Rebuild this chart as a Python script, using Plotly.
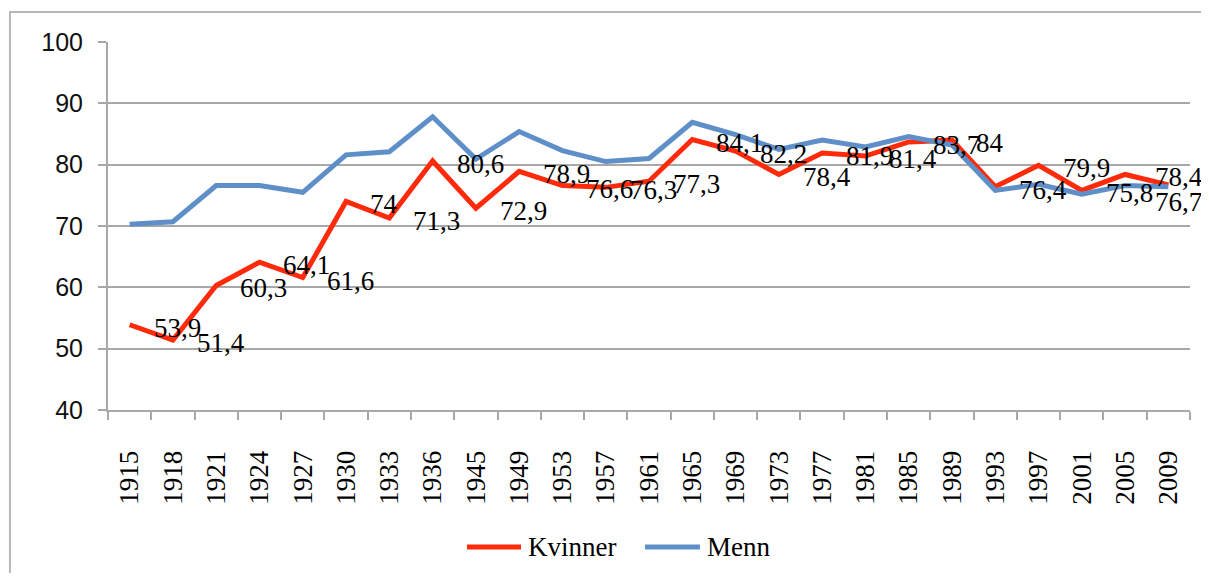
import plotly.graph_objects as go

years = ['1915', '1918', '1921', '1924', '1927', '1930', '1933', '1936', '1945',
         '1949', '1953', '1957', '1961', '1965', '1969', '1973', '1977', '1981',
         '1985', '1989', '1993', '1997', '2001', '2005', '2009']
kvinner = [53.9, 51.4, 60.3, 64.1, 61.6, 74, 71.3, 80.6, 72.9, 78.9, 76.6, 76.3,
           77.3, 84.1, 82.2, 78.4, 81.9, 81.4, 83.7, 84, 76.4, 79.9, 75.8, 78.4, 76.7]
menn = [70.3, 70.7, 76.6, 76.6, 75.5, 81.6, 82.1, 87.8, 80.9, 85.4, 82.3, 80.5,
        81.0, 86.9, 84.9, 82.5, 84.0, 82.9, 84.6, 83.2, 75.8, 76.8, 75.2, 76.6, 76.4]
y_ticks = [40, 50, 60, 70, 80, 90, 100]

RED = '#ff2a0a'
BLUE = '#5f8fc8'
GRID = '#a8a8a8'
SERIF = 'Liberation Serif'

fig = go.Figure()
fig.add_trace(go.Scatter(x=years, y=kvinner, mode='lines', name='Kvinner',
                         line=dict(color=RED, width=5)))
fig.add_trace(go.Scatter(x=years, y=menn, mode='lines', name='Menn',
                         line=dict(color=BLUE, width=5)))

# data labels for Kvinner, Excel-style "right" placement (x = category index);
# the last two are pushed around by the chart edge like in the original
nudge = {23: (28, -3), 24: (-15, -17)}
for i, v in enumerate(kvinner):
    dx, dy = nudge.get(i, (22, -3))
    fig.add_annotation(x=i, y=v, xref='x', yref='y',
                       text=f'{v:g}'.replace('.', ','),
                       showarrow=False, xanchor='left', yanchor='middle',
                       xshift=dx, yshift=dy,
                       font=dict(family=SERIF, size=27, color='#000'))

# legend drawn by hand (Excel-style long swatches, no margin push)
LEG_Y = -0.3723
for name, col, x0, x1, xt in [('Kvinner', RED, 0.3318, 0.3817, 0.3863),
                              ('Menn', BLUE, 0.4963, 0.5471, 0.5518)]:
    fig.add_shape(type='line', xref='paper', yref='paper',
                  x0=x0, x1=x1, y0=LEG_Y, y1=LEG_Y, line=dict(color=col, width=5))
    fig.add_annotation(x=xt, y=LEG_Y, xref='paper', yref='paper', text=name,
                       showarrow=False, xanchor='left', yanchor='middle',
                       font=dict(family=SERIF, size=27, color='#000'))

# outer chart frame
fig.add_shape(type='rect', xref='paper', yref='paper',
              x0=-0.0906, x1=1.3, y0=-0.7, y1=1.0815,
              line=dict(color='#b8b8b8', width=2), fillcolor='rgba(0,0,0,0)')

# page body keeps its 8px margin, so the figure is sized to fit inside it
fig.update_layout(
    width=1193, height=565,
    paper_bgcolor='white', plot_bgcolor='white',
    margin=dict(l=100, r=11, t=34, b=163),
    showlegend=False,
    xaxis=dict(type='category', tickson='boundaries', ticks='outside', ticklen=8,
               tickcolor=GRID, tickwidth=2, showline=True, linecolor=GRID, linewidth=2,
               showgrid=False, tickangle=-90, ticklabelstandoff=28,
               tickfont=dict(family=SERIF, size=27, color='#000'),
               range=[-0.5, len(years) - 0.5]),
    yaxis=dict(range=[40, 100], tickvals=y_ticks, ticks='outside', ticklen=8,
               tickcolor=GRID, tickwidth=2, showline=True, linecolor=GRID, linewidth=2,
               showgrid=True, gridcolor=GRID, gridwidth=2, zeroline=False,
               ticklabelstandoff=10,
               tickfont=dict(family='Liberation Sans', size=25, color='#111')),
)

fig.write_html('out.html')
